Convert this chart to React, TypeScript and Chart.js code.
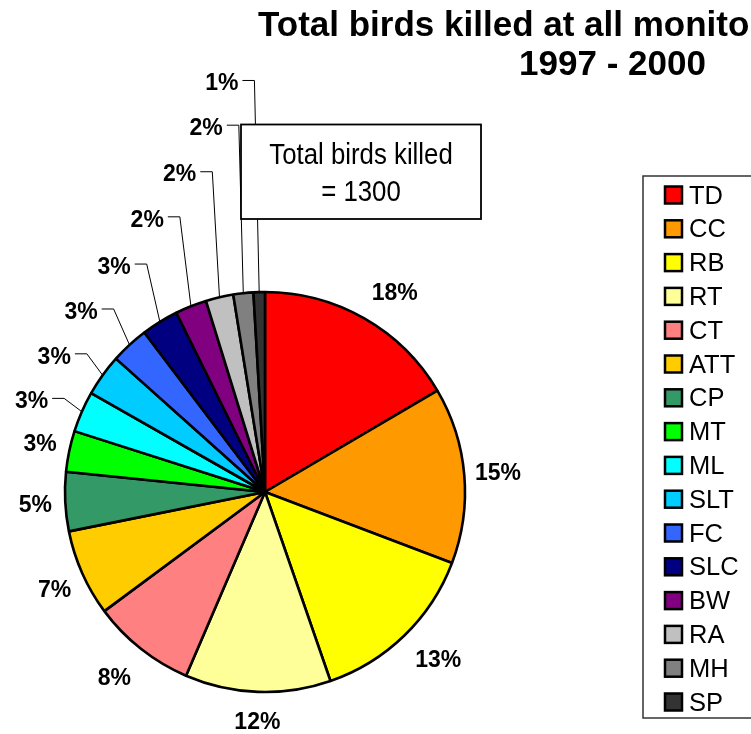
import React, { useEffect, useRef } from 'react';
import { Chart, registerables } from 'chart.js';

Chart.register(...registerables);

// ---- data ----
const categories = ['TD', 'CC', 'RB', 'RT', 'CT', 'ATT', 'CP', 'MT', 'ML', 'SLT', 'FC', 'SLC', 'BW', 'RA', 'MH', 'SP'];
const birdsKilled = [215, 185, 181, 153, 109, 91, 62, 43, 43, 44, 40, 39, 33, 29, 21, 12];
const percentLabels = ['18%', '15%', '13%', '12%', '8%', '7%', '5%', '3%', '3%', '3%', '3%', '3%', '2%', '2%', '2%', '1%'];
const sliceColors = ['#FF0000', '#FF9900', '#FFFF00', '#FFFF99', '#FF8080', '#FFCC00', '#339966', '#00FF00', '#00FFFF', '#00CCFF', '#3366FF', '#000080', '#800080', '#C0C0C0', '#808080', '#333333'];
const titleLine1 = 'Total birds killed at all monito';
const titleLine2 = '1997 - 2000';
const noteLine1 = 'Total birds killed';
const noteLine2 = '= 1300';

// label placement: offset of label centre from slice's outer mid-point, and whether a leader line is drawn
const labelOffsets: [number, number, boolean][] = [
  [30.4, -26.5, false],
  [33.7, -3.4, false],
  [33.8, 23.7, false],
  [-0.4, 28.8, false],
  [-26.6, 27.6, false],
  [-27.6, 16, false],
  [-29.8, 2.5, false],
  [-29, -8, false],
  [-50.3, -11.8, true],
  [-48.4, -19.9, true],
  [-48.5, -34.4, true],
  [-45.8, -56.3, true],
  [-43.7, -87.9, true],
  [-39.8, -124, true],
  [-37.1, -166.5, true],
  [-37.4, -210.1, true],
];

const FONT = '"Liberation Sans", Arial, sans-serif';

const overlayPlugin = {
  id: 'overlay',
  afterDatasetsDraw(chart: any) {
    const ctx: CanvasRenderingContext2D = chart.ctx;
    const meta = chart.getDatasetMeta(0);
    ctx.save();

    // leader lines first
    ctx.font = `bold 23px ${FONT}`;
    ctx.strokeStyle = '#000';
    ctx.lineWidth = 1;
    const placed: { lx: number; ly: number; text: string }[] = [];
    meta.data.forEach((arc: any, i: number) => {
      const p = arc.getProps(['x', 'y', 'startAngle', 'endAngle', 'outerRadius'], true);
      const mid = (p.startAngle + p.endAngle) / 2;
      const ax = p.x + p.outerRadius * Math.cos(mid);
      const ay = p.y + p.outerRadius * Math.sin(mid);
      const [dx, dy, leader] = labelOffsets[i];
      const lx = ax + dx;
      const ly = ay + dy;
      const text = percentLabels[i];
      placed.push({ lx, ly, text });
      if (leader) {
        const w = ctx.measureText(text).width;
        const right = lx + w / 2;
        ctx.beginPath();
        ctx.moveTo(right + 4, ly - 1.5);
        ctx.lineTo(right + 16, ly - 1.5);
        ctx.lineTo(ax, ay);
        ctx.stroke();
      }
    });

    // labels
    ctx.fillStyle = '#000';
    ctx.textAlign = 'center';
    ctx.textBaseline = 'alphabetic';
    placed.forEach(({ lx, ly, text }) => {
      ctx.fillText(text, lx, ly + 8.2);
    });

    // note box
    ctx.fillStyle = '#fff';
    ctx.fillRect(241, 124.5, 240, 94.5);
    ctx.strokeStyle = '#000';
    ctx.lineWidth = 1.8;
    ctx.strokeRect(241, 124.5, 240, 94.5);
    ctx.fillStyle = '#000';
    ctx.font = `30px ${FONT}`;
    ctx.textAlign = 'center';
    [[noteLine1, 164], [noteLine2, 200.5]].forEach(([t, by]) => {
      ctx.save();
      ctx.translate(361, by as number);
      ctx.scale(0.86, 1);
      ctx.fillText(t as string, 0, 0);
      ctx.restore();
    });

    // title
    ctx.font = `bold 35px ${FONT}`;
    ctx.textAlign = 'left';
    ctx.fillText(titleLine1, 258, 35.5);
    ctx.textAlign = 'center';
    ctx.fillText(titleLine2, 612.5, 75);

    // legend
    ctx.strokeStyle = '#333';
    ctx.lineWidth = 1.5;
    ctx.strokeRect(643, 176, 130, 542);
    ctx.font = `25.5px ${FONT}`;
    ctx.textAlign = 'left';
    categories.forEach((c, i) => {
      const cy = 194.5 + i * 33.8;
      ctx.fillStyle = sliceColors[i];
      ctx.fillRect(665, cy - 8, 17, 17);
      ctx.strokeStyle = '#000';
      ctx.lineWidth = 2.5;
      ctx.strokeRect(665, cy - 8, 17, 17);
      ctx.fillStyle = '#000';
      ctx.fillText(c, 689, cy + 9.1);
    });

    ctx.restore();
  },
};

export default function App() {
  const canvasRef = useRef<HTMLCanvasElement | null>(null);

  useEffect(() => {
    document.body.style.margin = '0';
    const canvas = canvasRef.current;
    if (!canvas) return;
    const chart = new Chart(canvas, {
      type: 'pie',
      data: {
        labels: categories,
        datasets: [
          {
            data: birdsKilled,
            backgroundColor: sliceColors,
            borderColor: '#000',
            borderWidth: 2.6,
            radius: 200,
            hoverOffset: 0,
          } as any,
        ],
      },
      options: {
        responsive: false,
        animation: false,
        events: [],
        layout: { padding: { left: 65, top: 292, right: 286, bottom: 42 } },
        plugins: {
          legend: { display: false },
          title: { display: false },
          tooltip: { enabled: false },
        },
      },
      plugins: [overlayPlugin],
    });
    return () => chart.destroy();
  }, []);

  return (
    <div style={{ width: 751, height: 734, background: '#fff' }}>
      <canvas ref={canvasRef} width={751} height={734} style={{ display: 'block' }} />
    </div>
  );
}
